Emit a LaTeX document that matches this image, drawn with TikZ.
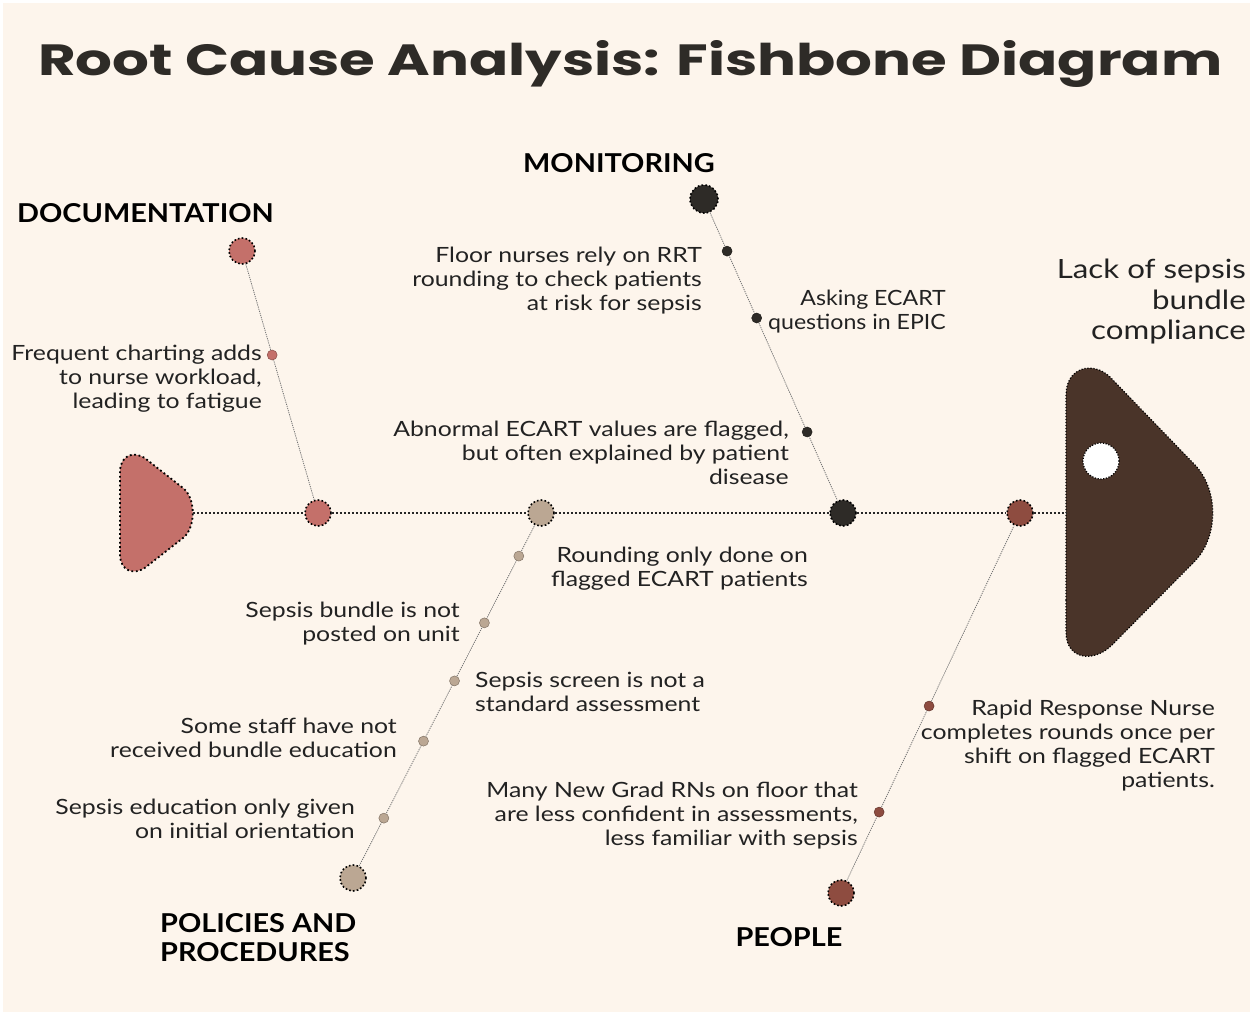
\documentclass[tikz,border=0pt]{standalone}
\usepackage{fontspec}
\setmainfont{Lato}[FakeStretch=1.18]
\newfontfamily\catfont{Lato}[FakeStretch=1.11]
\newfontfamily\narrowfont{Lato}[FakeStretch=1.1]
\newfontfamily\titlefont{Poppins}
\usepackage{graphicx}
\usetikzlibrary{calc}
\definecolor{cream}{HTML}{FDF5EC}
\definecolor{docred}{HTML}{C4706A}
\definecolor{mondark}{HTML}{2E2B27}
\definecolor{poltan}{HTML}{BBA793}
\definecolor{peopbrown}{HTML}{8E4C40}
\definecolor{headbrown}{HTML}{4A3429}
\definecolor{txt}{HTML}{222222}
\tikzset{
  bigdot/.style={circle, minimum size=26pt, inner sep=0pt, draw=black, line width=1.6pt, dash pattern=on 1.6pt off 2.2pt, fill=#1},
  smalldot/.style={circle, minimum size=10pt, inner sep=0pt, draw=#1!70!black, line width=0.5pt, fill=#1},
  bone/.style={draw=black!55, line width=0.8pt, dash pattern=on 1.2pt off 1pt},
  spine/.style={draw=black!85, line width=2pt, dash pattern=on 2pt off 2pt},
  lbl/.style={font=\fontsize{21}{24}\selectfont, text=txt, inner sep=0pt, align=right, anchor=east},
  lbll/.style={font=\fontsize{21}{24}\selectfont, text=txt, inner sep=0pt, align=left, anchor=west},
  cat/.style={font=\catfont\fontsize{26}{29}\selectfont\bfseries, text=black, inner sep=0pt, align=left},
}
\begin{document}
\begin{tikzpicture}[x=1pt, y=-1pt]
\useasboundingbox (0,0) rectangle (1255,1017);
\fill[white] (0,0) rectangle (1255,1017);
\fill[cream] (3,3) rectangle (1250,1012);

% title
\node[anchor=base west, inner sep=0pt, text=mondark] (title) at (38,75)
  {\resizebox{1184pt}{35pt}{\titlefont\bfseries Root Cause Analysis: Fishbone Diagram}};

% tail and head
\filldraw[fill=docred, draw=black, line width=1.8pt, dash pattern=on 1.8pt off 2.6pt]
  (120,548) -- (120,472) .. controls (120,455) and (134,450) .. (146,459)
  -- (183,488) .. controls (196,498) and (196,528) .. (183,538)
  -- (146,567) .. controls (134,576) and (120,571) .. (120,554) -- cycle;
\filldraw[fill=headbrown, draw=black, line width=1.2pt, dash pattern=on 1.2pt off 1.8pt]
  (1066,600) -- (1066,395) .. controls (1066,368) and (1092,360) .. (1110,377)
  -- (1194,464) .. controls (1219,489) and (1219,537) .. (1194,562)
  -- (1112,645) .. controls (1094,663) and (1066,660) .. (1066,632) -- cycle;
\node[circle, minimum size=36pt, inner sep=0pt, fill=white, draw=black, line width=1.2pt, dash pattern=on 1.2pt off 1.6pt] (eye) at (1101,461) {};

\coordinate (tailtip) at (193,513);
\coordinate (headback) at (1066,513);

% spine nodes
\node[bigdot=docred] (s1) at (318,513) {};
\node[bigdot=poltan] (s2) at (541,513) {};
\node[bigdot=mondark] (s3) at (843,513) {};
\node[bigdot=peopbrown] (s4) at (1020,513) {};

\draw[spine] (tailtip) -- (s1);
\draw[spine] (s1) -- (s2);
\draw[spine] (s2) -- (s3);
\draw[spine] (s3) -- (s4);
\draw[spine] (s4) -- (headback);

% bone ends
\node[bigdot=docred] (d0) at (242,251) {};
\node[bigdot=mondark, minimum size=28pt] (m0) at (704,199) {};
\node[bigdot=poltan] (p0) at (353,878) {};
\node[bigdot=peopbrown] (q0) at (841,893) {};

\draw[bone] (d0) -- (s1);
\draw[bone] (m0) -- (s3);
\draw[bone] (p0) -- (s2);
\draw[bone] (q0) -- (s4);

% small dots
\path (d0.center) -- (s1.center) node[smalldot=docred, pos=0.397] (d1) {};
\path (m0.center) -- (s3.center) node[smalldot=mondark, pos=0.166] (m1) {}
                                  node[smalldot=mondark, pos=0.379] (m2) {}
                                  node[smalldot=mondark, pos=0.742] (m3) {};
\path (p0.center) -- (s2.center) node[smalldot=poltan, pos=0.882] (p1) {}
                                  node[smalldot=poltan, pos=0.699] (p2) {}
                                  node[smalldot=poltan, pos=0.540] (p3) {}
                                  node[smalldot=poltan, pos=0.375] (p4) {}
                                  node[smalldot=poltan, pos=0.164] (p5) {};
\path (q0.center) -- (s4.center) node[smalldot=peopbrown, pos=0.492] (q1) {}
                                  node[smalldot=peopbrown, pos=0.213] (q2) {};

% category labels
\node[cat, anchor=west] (catdoc) at (17,213) {DOCUMENTATION};
\node[cat] (catmon) at (619,163) {MONITORING};
\node[cat, anchor=west] (catpol) at (160,938) {POLICIES AND\\PROCEDURES};
\node[cat] (catpeo) at (789,937) {PEOPLE};

\node[font=\fontsize{26.5}{30.5}\selectfont, text=txt, inner sep=0pt, align=right, anchor=east] (problem) at (1246,302)
  {Lack of sepsis\\bundle\\compliance};

% cause labels
\node[lbl] (t1) at (262,379) {Frequent charting adds\\to nurse workload,\\leading to fatigue};
\node[lbl] (t2) at (702,281) {Floor nurses rely on RRT\\rounding to check patients\\at risk for sepsis};
\node[lbl, font=\narrowfont\fontsize{21}{24}\selectfont] (t3) at (946,312) {Asking ECART\\questions in EPIC};
\node[lbl] (t4) at (789,453) {Abnormal ECART values are flagged,\\but often explained by patient\\disease};
\node[lbl] (t5) at (808,569) {Rounding only done on\\flagged ECART patients};
\node[lbl] (t6) at (460,624) {Sepsis bundle is not\\posted on unit};
\node[lbll] (t7) at (475,692) {Sepsis screen is not a\\standard assessment};
\node[lbl] (t8) at (397,738) {Some staff have not\\received bundle education};
\node[lbl] (t9) at (355,819) {Sepsis education only given\\on initial orientation};
\node[lbl] (t10) at (1215,746) {Rapid Response Nurse\\completes rounds once per\\shift on flagged ECART\\patients.};
\node[lbl] (t11) at (858,816) {Many New Grad RNs on floor that\\are less confident in assessments,\\less familiar with sepsis};
\end{tikzpicture}
\end{document}
